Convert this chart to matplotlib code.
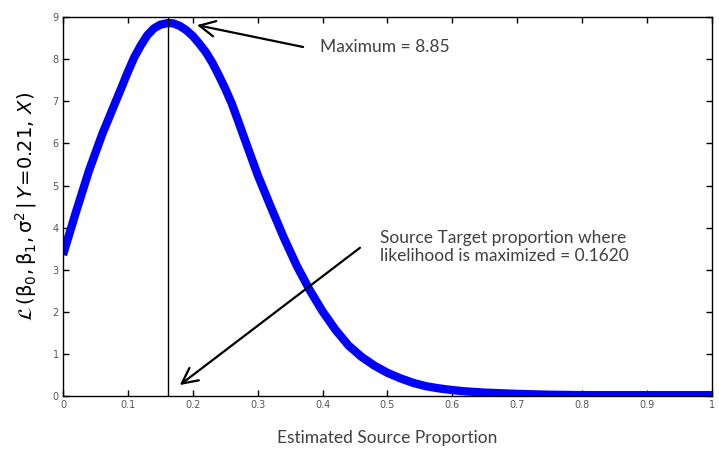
import matplotlib.pyplot as plt

proportion = [0.00, 0.02, 0.04, 0.06, 0.08, 0.09, 0.10, 0.11, 0.12, 0.13, 0.14,
              0.15, 0.162, 0.17, 0.18, 0.19, 0.20, 0.21, 0.22, 0.23, 0.24, 0.25,
              0.26, 0.27, 0.28, 0.30, 0.32, 0.34, 0.36, 0.38, 0.40, 0.42, 0.44,
              0.46, 0.48, 0.50, 0.52, 0.54, 0.56, 0.58, 0.60, 0.62, 0.65, 0.70,
              0.75, 0.80, 0.90, 1.00]
likelihood = [3.35, 4.37, 5.35, 6.20, 6.95, 7.32, 7.70, 8.05, 8.33, 8.57, 8.73,
              8.82, 8.86, 8.85, 8.79, 8.69, 8.55, 8.37, 8.17, 7.92, 7.62, 7.30,
              6.95, 6.53, 6.10, 5.25, 4.50, 3.77, 3.10, 2.52, 2.01, 1.57, 1.20,
              0.93, 0.72, 0.55, 0.42, 0.31, 0.23, 0.18, 0.14, 0.11, 0.08, 0.05,
              0.03, 0.02, 0.02, 0.02]

max_x = 0.162
xticks = [0, 0.1, 0.2, 0.3, 0.4, 0.5, 0.6, 0.7, 0.8, 0.9, 1]
xtick_labels = ['0', '0.1', '0.2', '0.3', '0.4', '0.5', '0.6', '0.7', '0.8', '0.9', '1']
yticks = list(range(10))

fig = plt.figure(figsize=(7.19, 4.5), dpi=100)
ax = fig.add_axes([0.0876, 0.12, 0.9026, 0.842])

ax.plot(proportion, likelihood, color='#0000ff', lw=6, solid_capstyle='butt',
        solid_joinstyle='round')
ax.axvline(max_x, color='black', lw=1)

ax.set_xlim(0, 1)
ax.set_ylim(0, 9)
ax.set_xticks(xticks)
ax.set_xticklabels(xtick_labels)
ax.set_yticks(yticks)
ax.tick_params(direction='in', top=True, right=True, length=4, width=1,
               labelsize=7, labelcolor='#555555', pad=3)
for s in ax.spines.values():
    s.set_linewidth(1)

txt_font = 'Lato'
ax.set_xlabel('Estimated Source Proportion', fontsize=12.5, family=txt_font,
              color='#404040', labelpad=14)
ax.set_ylabel(r'$\mathcal{L}\,(\mathrm{\beta_0,\beta_1,\sigma^2}\,|\,Y\!=\!0.21,\,X)$',
              fontsize=14, labelpad=10)

arrow = dict(arrowstyle='->', lw=1.6, color='black', mutation_scale=28,
             shrinkA=0, shrinkB=0)

# maximum annotation
ax.annotate('', xy=(0.2065, 8.81), xytext=(0.370, 8.29), arrowprops=arrow)
ax.text(0.396, 8.29, 'Maximum = 8.85', fontsize=12.5, family=txt_font,
        color='#404040', va='center')

# location annotation
ax.annotate('', xy=(0.180, 0.26), xytext=(0.4576, 3.52), arrowprops=arrow)
ax.text(0.4884, 3.54, 'Source Target proportion where\nlikelihood is maximized = 0.1620',
        fontsize=12.5, family=txt_font, color='#404040', va='center',
        linespacing=1.1)

fig.savefig('out.png', dpi=100)
